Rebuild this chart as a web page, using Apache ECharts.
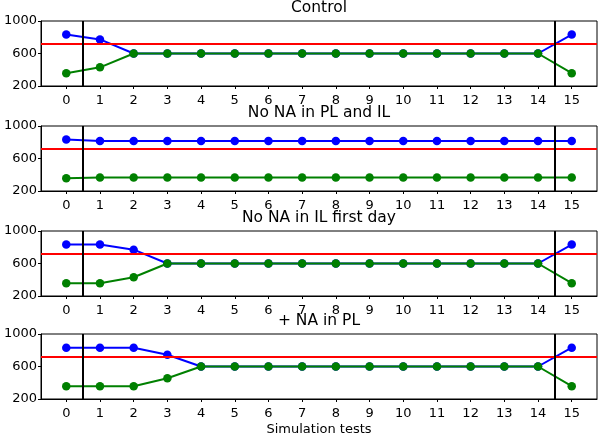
<!DOCTYPE html>
<html>
<head>
<meta charset="utf-8">
<script src="https://cdn.jsdelivr.net/npm/echarts@6/dist/echarts.min.js"></script>
<style>
html,body{margin:0;padding:0;background:#fff;}
#chart{width:600px;height:437px;}
</style>
</head>
<body>
<div id="chart"></div>
<script>
// ---- data ----
const xTicks = [0,1,2,3,4,5,6,7,8,9,10,11,12,13,14,15];
const yTicks = [200, 600, 1000];
const titles = ['Control', 'No NA in PL and IL', 'No NA in IL first day', '+ NA in PL'];
const xLabel = 'Simulation tests';

const blueControl  = [833,773,600,600,600,600,600,600,600,600,600,600,600,600,600,833];
const greenControl = [358,430,600,600,600,600,600,600,600,600,600,600,600,600,600,358];

const blueNoNA  = [833,814,814,814,814,814,814,814,814,814,814,814,814,814,814,814];
const greenNoNA = [358,366,366,366,366,366,366,366,366,366,366,366,366,366,366,366];

const blueILFirst  = [833,833,770,600,600,600,600,600,600,600,600,600,600,600,600,833];
const greenILFirst = [358,358,431,600,600,600,600,600,600,600,600,600,600,600,600,358];

const bluePL  = [831,831,831,745,600,600,600,600,600,600,600,600,600,600,600,831];
const greenPL = [358,358,358,455,600,600,600,600,600,600,600,600,600,600,600,358];

const thresholdY = 714;
const splitX = [0.5, 14.5];

const panels = [
  [blueControl, greenControl],
  [blueNoNA, greenNoNA],
  [blueILFirst, greenILFirst],
  [bluePL, greenPL]
];

// ---- layout ----
const FONT = 'DejaVu Sans';
const gridTops = [21, 126, 231, 334];
const gridH = 65, gridL = 41, gridW = 556;

const grids = [], xAxes = [], yAxes = [], series = [], titleOpts = [];
panels.forEach((p, i) => {
  grids.push({left: gridL, top: gridTops[i], width: gridW, height: gridH,
    show: true, borderColor: '#000', borderWidth: 1, backgroundColor: 'transparent'});
  xAxes.push({
    type: 'value', gridIndex: i, min: -0.75, max: 15.75,
    splitLine: {show: false},
    axisLine: {show: true, onZero: false, lineStyle: {color: '#000', width: 1}},
    axisTick: {show: true, length: 3, customValues: xTicks, lineStyle: {color: '#000'}},
    axisLabel: {customValues: xTicks, color: '#000', fontFamily: FONT, fontSize: 13, margin: 8},
    name: i === 3 ? xLabel : '',
    nameLocation: 'middle', nameGap: 24,
    nameTextStyle: {color: '#000', fontFamily: FONT, fontSize: 13}
  });
  yAxes.push({
    type: 'value', gridIndex: i, min: yTicks[0], max: yTicks[yTicks.length-1], interval: 400,
    splitLine: {show: false},
    axisLine: {show: true, onZero: false, lineStyle: {color: '#000', width: 1}},
    axisTick: {show: true, length: 3, lineStyle: {color: '#000'}},
    axisLabel: {color: '#000', fontFamily: FONT, fontSize: 13, margin: 4,
      formatter: v => String(v)}
  });
  titleOpts.push({
    text: titles[i], left: gridL + gridW/2, top: gridTops[i] - 21, textAlign: 'center', padding: 0,
    textStyle: {color: '#000', fontFamily: FONT, fontSize: 15.5, fontWeight: 'normal'}
  });
  const mk = (arr) => arr.map((v, k) => [xTicks[k], v]);
  series.push({
    type: 'line', xAxisIndex: i, yAxisIndex: i, data: mk(p[0]),
    symbol: 'circle', symbolSize: 8.5, color: '#0000ff',
    lineStyle: {color: '#0000ff', width: 2}, itemStyle: {color: '#0000ff'},
    animation: false, silent: true, z: 2
  });
  series.push({
    type: 'line', xAxisIndex: i, yAxisIndex: i, data: mk(p[1]),
    symbol: 'circle', symbolSize: 8.5, color: '#008000',
    lineStyle: {color: '#008000', width: 2}, itemStyle: {color: '#008000'},
    animation: false, silent: true, z: 3
  });
  series.push({
    type: 'line', xAxisIndex: i, yAxisIndex: i, data: [],
    animation: false, silent: true, z: 4,
    markLine: {
      silent: true, symbol: 'none', animation: false, label: {show: false},
      data: [
        {yAxis: thresholdY, lineStyle: {color: '#ff0000', width: 1.8, type: 'solid'}},
        ...splitX.map(x => ({xAxis: x, lineStyle: {color: '#000', width: 2, type: 'solid'}}))
      ]
    }
  });
});

const chart = echarts.init(document.getElementById('chart'), null, {renderer: 'canvas'});
chart.setOption({
  animation: false,
  backgroundColor: '#fff',
  title: titleOpts,
  grid: grids, xAxis: xAxes, yAxis: yAxes, series: series
});
</script>
</body>
</html>
